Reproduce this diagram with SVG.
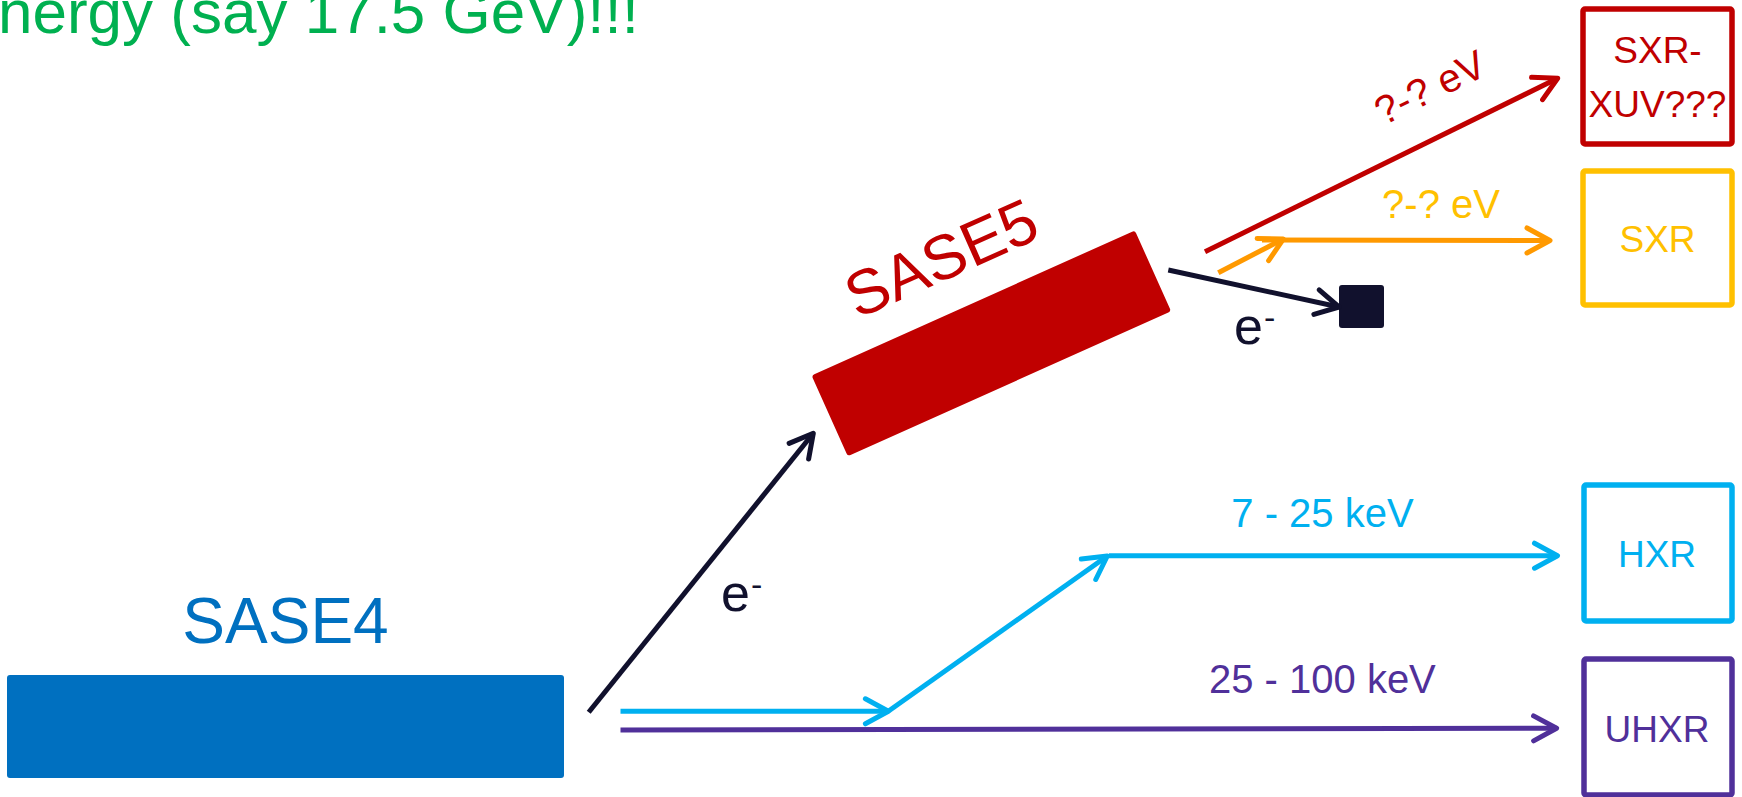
<svg xmlns="http://www.w3.org/2000/svg" width="1742" height="797" viewBox="0 0 1742 797">
<defs>
<style>
text{font-family:"Liberation Sans",Arial,sans-serif}
.box{fill:#fff;stroke-width:5.5}
.ln{fill:none;stroke-width:5}
.bt{font-size:37px;text-anchor:middle}
.lbl{font-size:40px;text-anchor:middle}
</style>
<marker id="aK" markerUnits="userSpaceOnUse" markerWidth="40" markerHeight="40" viewBox="-30 -20 40 40" refX="0" refY="0" orient="auto" overflow="visible"><path d="M-23,-12.5 L0,0 L-23,12.5" fill="none" stroke="#11112D" stroke-width="5" stroke-linecap="round" stroke-linejoin="round"/></marker>
<marker id="aR" markerUnits="userSpaceOnUse" markerWidth="40" markerHeight="40" viewBox="-30 -20 40 40" refX="0" refY="0" orient="auto" overflow="visible"><path d="M-23,-12.5 L0,0 L-23,12.5" fill="none" stroke="#C00000" stroke-width="5" stroke-linecap="round" stroke-linejoin="round"/></marker>
<marker id="aO" markerUnits="userSpaceOnUse" markerWidth="40" markerHeight="40" viewBox="-30 -20 40 40" refX="0" refY="0" orient="auto" overflow="visible"><path d="M-23,-12.5 L0,0 L-23,12.5" fill="none" stroke="#FF9900" stroke-width="5" stroke-linecap="round" stroke-linejoin="round"/></marker>
<marker id="aC" markerUnits="userSpaceOnUse" markerWidth="40" markerHeight="40" viewBox="-30 -20 40 40" refX="0" refY="0" orient="auto" overflow="visible"><path d="M-23,-12.5 L0,0 L-23,12.5" fill="none" stroke="#00B0F0" stroke-width="5" stroke-linecap="round" stroke-linejoin="round"/></marker>
<marker id="aP" markerUnits="userSpaceOnUse" markerWidth="40" markerHeight="40" viewBox="-30 -20 40 40" refX="0" refY="0" orient="auto" overflow="visible"><path d="M-23,-12.5 L0,0 L-23,12.5" fill="none" stroke="#50309A" stroke-width="5" stroke-linecap="round" stroke-linejoin="round"/></marker>
</defs>
<rect width="1742" height="797" fill="#fff"/>

<text id="title" x="-2" y="33" font-size="62" fill="#00B050">nergy (say 17.5 GeV)!!!</text>

<g id="sase4">
<rect x="7" y="675" width="557" height="103" rx="3" fill="#0070C0"/>
<text x="285.5" y="643" font-size="64" fill="#0070C0" text-anchor="middle">SASE4</text>
</g>

<g id="sase5">
<rect transform="translate(991.2,343.4) rotate(-24.15)" x="-177" y="-44.25" width="354.3" height="88.5" rx="3" fill="#C00000"/>
<text transform="translate(950,278) rotate(-24)" font-size="63" fill="#C00000" text-anchor="middle">SASE5</text>
</g>

<g id="dump">
<rect x="1339" y="285" width="45" height="43" rx="3" fill="#11112D"/>
</g>

<g id="sxr-xuv">
<rect class="box" x="1583" y="9" width="149" height="135" rx="2" stroke="#C00000"/>
<text class="bt" x="1657.5" y="63" fill="#C00000">SXR-</text>
<text class="bt" x="1657.5" y="117" fill="#C00000">XUV???</text>
</g>

<g id="sxr">
<rect class="box" x="1583" y="171" width="149" height="134" rx="2" stroke="#FFC000"/>
<text class="bt" x="1657.5" y="252" fill="#FFC000">SXR</text>
</g>

<g id="hxr">
<rect class="box" x="1584" y="485" width="148" height="136" rx="2" stroke="#00B0F0"/>
<text class="bt" x="1657" y="566.7" fill="#00B0F0">HXR</text>
</g>

<g id="uhxr">
<rect class="box" x="1584" y="659" width="148" height="136" rx="2" stroke="#50309A"/>
<text class="bt" x="1657" y="741.7" fill="#50309A">UHXR</text>
</g>

<g id="connectors">
<line class="ln" x1="588.7" y1="712.3" x2="813.3" y2="433.3" stroke="#11112D" marker-end="url(#aK)"/>
<line class="ln" x1="1168.3" y1="270" x2="1339" y2="307" stroke="#11112D" marker-end="url(#aK)"/>
<line class="ln" x1="1205" y1="251.7" x2="1557.7" y2="78.3" stroke="#C00000" marker-end="url(#aR)"/>
<line class="ln" x1="1218.3" y1="272.7" x2="1283.3" y2="239" stroke="#FF9900" marker-end="url(#aO)"/>
<line class="ln" x1="1262" y1="240" x2="1550" y2="240.5" stroke="#FF9900" marker-end="url(#aO)"/>
<line class="ln" x1="620.5" y1="711.3" x2="888.4" y2="711.3" stroke="#00B0F0" marker-end="url(#aC)"/>
<line class="ln" x1="889" y1="710.7" x2="1107.3" y2="556" stroke="#00B0F0" marker-end="url(#aC)"/>
<line class="ln" x1="1109" y1="555.7" x2="1557.5" y2="555.7" stroke="#00B0F0" marker-end="url(#aC)"/>
<line class="ln" x1="620.5" y1="730" x2="1556.6" y2="728.3" stroke="#50309A" marker-end="url(#aP)"/>
</g>

<g id="labels">
<text x="721" y="611" font-size="52" fill="#11112D">e<tspan font-size="34" dy="-15" dx="1">-</tspan></text>
<text x="1234" y="344" font-size="52" fill="#11112D">e<tspan font-size="34" dy="-15" dx="1">-</tspan></text>
<text class="lbl" transform="translate(1436,100) rotate(-26.2)" fill="#C00000">?-? eV</text>
<text class="lbl" x="1441" y="218.3" fill="#FFC000">?-? eV</text>
<text class="lbl" x="1322.5" y="527.3" fill="#00B0F0">7 - 25 keV</text>
<text class="lbl" x="1322.4" y="692.7" fill="#50309A">25 - 100 keV</text>
</g>
</svg>
